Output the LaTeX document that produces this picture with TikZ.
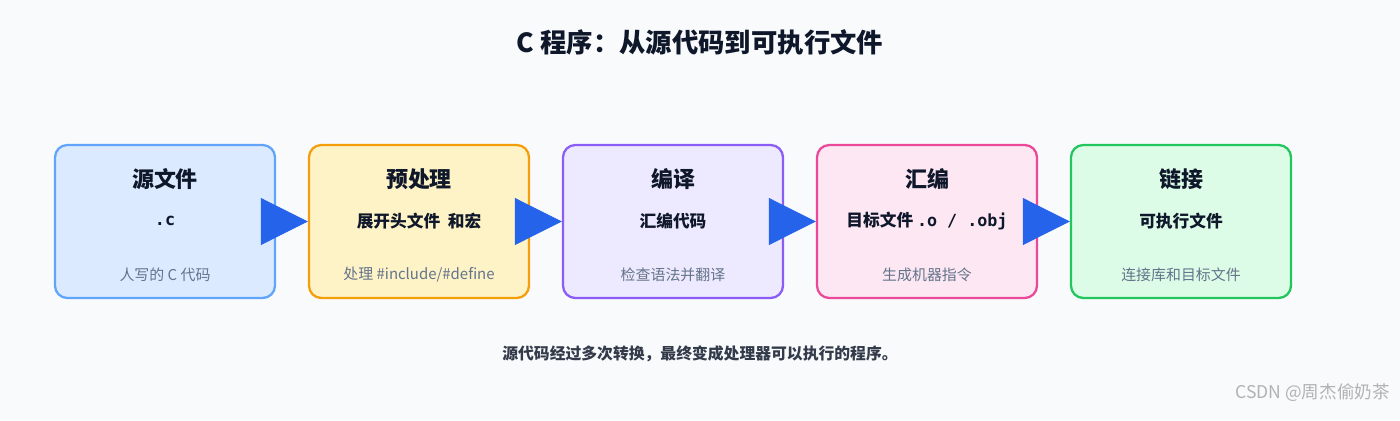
\documentclass[tikz,border=0pt]{standalone}
\usepackage{fontspec}
\setmainfont{Noto Sans CJK SC}
\newfontfamily\cjkmono{DejaVu Sans Mono}
\usetikzlibrary{arrows.meta,positioning}
\definecolor{bgc}{HTML}{F8FAFC}
\definecolor{ink}{HTML}{0F172A}
\definecolor{note}{HTML}{64748B}
\definecolor{arr}{HTML}{2563EB}
\begin{document}
\begin{tikzpicture}[x=0.02cm,y=-0.02cm,
  box/.style={draw, line width=1.3pt, rounded corners=7pt, minimum width=220*0.02cm, minimum height=153*0.02cm},
  ttl/.style={font=\fontsize{12.5}{14}\selectfont\bfseries, text=ink},
  mid/.style={font=\fontsize{9.5}{11}\selectfont\bfseries, text=ink},
  sub/.style={font=\fontsize{8.5}{10}\selectfont, text=note},
  flow/.style={-{Triangle[length=47*0.02cm,width=47*0.02cm]}, arr, line width=0.4pt}]
\fill[bgc] (0,0) rectangle (1400,420);
\node[font=\fontsize{15}{17}\selectfont\bfseries, text=ink] (title) at (700,42) {C 程序：从源代码到可执行文件};
\foreach \n/\x/\f/\d/\t/\m/\s in {
  1/165/DBEAFE/60A5FA/源文件/{\cjkmono .c}/人写的 C 代码,
  2/419/FEF3C7/F59E0B/预处理/{展开头文件 \ 和宏}/{处理 \#include/\#define},
  3/673/EDE9FE/8B5CF6/编译/汇编代码/检查语法并翻译,
  4/927/FCE7F3/EC4899/汇编/{目标文件 {\cjkmono .o / .obj}}/生成机器指令,
  5/1181/DCFCE7/22C55E/链接/可执行文件/连接库和目标文件}{
  \definecolor{fc}{HTML}{\f}\definecolor{dc}{HTML}{\d}
  \node[box, fill=fc, draw=dc] (b\n) at (\x,221.5) {};
  \node[ttl] (t\n) at (\x,179) {\t};
  \node[mid] (m\n) at (\x,221) {\m};
  \node[sub] (s\n) at (\x,275) {\s};
}
\foreach \a/\b in {1/2,2/3,3/4,4/5}
  \draw[flow] (b\a.east) -- (b\b.west);
\node[font=\fontsize{9}{11}\selectfont\bfseries, text=ink!85] (foot) at (700,354) {源代码经过多次转换，最终变成处理器可以执行的程序。};
\node[font=\fontsize{10}{12}\selectfont, text=gray!60, anchor=east] (mark) at (1396,393) {CSDN @周杰偷奶茶};
\end{tikzpicture}
\end{document}
